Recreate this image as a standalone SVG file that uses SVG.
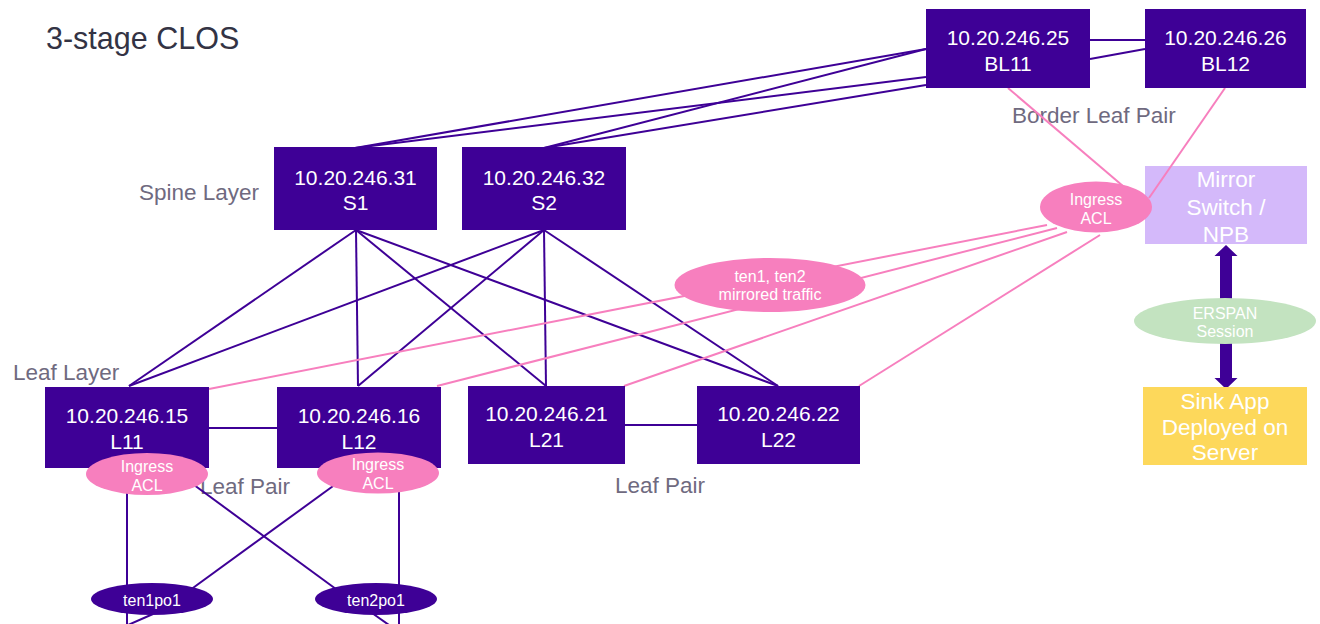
<svg xmlns="http://www.w3.org/2000/svg" width="1320" height="624" viewBox="0 0 1320 624">
<style>
text{font-family:"Liberation Sans",Arial,sans-serif}
.box{fill:#3e0096}
.nt{fill:#fff;font-size:21px;text-anchor:middle}
.lbl{fill:#6f6a80;font-size:22.5px}
.pl{stroke:#3e0096;stroke-width:2;fill:none}
.pk{stroke:#f77fbe;stroke-width:2;fill:none}
.acl{fill:#f77fbe}
.et{fill:#fff;font-size:16px;text-anchor:middle}
.big{fill:#fff;font-size:22.5px;text-anchor:middle}
</style>
<rect width="1320" height="624" fill="#fff"/>
<g id="labels">
<text x="46" y="49" font-size="30.5" fill="#333344">3-stage CLOS</text>
<text class="lbl" x="139" y="200">Spine Layer</text>
<text class="lbl" x="13" y="380">Leaf Layer</text>
<text class="lbl" x="200" y="494">Leaf Pair</text>
<text class="lbl" x="615" y="493">Leaf Pair</text>
<text class="lbl" x="1012" y="123">Border Leaf Pair</text>
</g>
<g id="mirror"><rect x="1145" y="166" width="162" height="78" fill="#d4b9fa"/><text class="big" x="1226" y="187">Mirror</text><text class="big" x="1226" y="215">Switch /</text><text class="big" x="1226" y="242">NPB</text></g>
<g id="connectors">
<line class="pl" x1="355" y1="148" x2="926" y2="49"/>
<line class="pl" x1="544" y1="148" x2="926" y2="49"/>
<line class="pl" x1="355" y1="148" x2="926" y2="77"/>
<line class="pl" x1="544" y1="148" x2="926" y2="85"/>
<line class="pl" x1="1090" y1="40" x2="1145" y2="40" stroke-width="3"/>
<line class="pl" x1="1090" y1="59" x2="1145" y2="49"/>
<line class="pl" x1="356" y1="230" x2="129" y2="386"/>
<line class="pl" x1="356" y1="230" x2="358" y2="386"/>
<line class="pl" x1="356" y1="230" x2="546" y2="386"/>
<line class="pl" x1="356" y1="230" x2="778" y2="386"/>
<line class="pl" x1="544" y1="230" x2="129" y2="386"/>
<line class="pl" x1="544" y1="230" x2="358" y2="386"/>
<line class="pl" x1="544" y1="230" x2="546" y2="386"/>
<line class="pl" x1="544" y1="230" x2="778" y2="386"/>
<line class="pl" x1="209" y1="428" x2="277" y2="428"/>
<line class="pl" x1="625" y1="425" x2="697" y2="425"/>
<line class="pl" x1="127" y1="468" x2="127" y2="624"/>
<line class="pl" x1="399" y1="468" x2="399" y2="624"/>
<line class="pl" x1="190" y1="482" x2="340" y2="592"/>
<line class="pl" x1="340" y1="481" x2="186" y2="593"/>
<line class="pl" x1="153" y1="614" x2="128" y2="625"/>
<line class="pl" x1="372" y1="613" x2="389" y2="625"/>
<line class="pk" x1="1008" y1="88" x2="1130" y2="192"/>
<line class="pk" x1="1225" y1="88" x2="1149" y2="198"/>
<line class="pk" x1="1047" y1="225" x2="209" y2="389"/>
<line class="pk" x1="1057" y1="228" x2="437" y2="386"/>
<line class="pk" x1="1067" y1="232" x2="624" y2="386"/>
<line class="pk" x1="1100" y1="235" x2="859" y2="386"/>
<path d="M1226 245 L1237.5 256 L1232 256 L1232 378 L1237.5 378 L1226 389 L1214.5 378 L1220 378 L1220 256 L1214.5 256 Z" fill="#3e0096"/>
</g>
<g id="BL11"><rect class="box" x="926" y="9" width="164" height="79"/><text class="nt" x="1008" y="45">10.20.246.25</text><text class="nt" x="1008" y="71">BL11</text></g>
<g id="BL12"><rect class="box" x="1145" y="9" width="161" height="79"/><text class="nt" x="1225.5" y="45">10.20.246.26</text><text class="nt" x="1225.5" y="71">BL12</text></g>
<g id="S1"><rect class="box" x="274" y="147" width="163" height="83"/><text class="nt" x="355.5" y="184.5">10.20.246.31</text><text class="nt" x="355.5" y="209.5">S1</text></g>
<g id="S2"><rect class="box" x="462" y="147" width="164" height="83"/><text class="nt" x="544" y="184.5">10.20.246.32</text><text class="nt" x="544" y="209.5">S2</text></g>
<g id="L11"><rect class="box" x="45" y="387" width="164" height="81"/><text class="nt" x="127" y="422.5">10.20.246.15</text><text class="nt" x="127" y="448.5">L11</text></g>
<g id="L12"><rect class="box" x="277" y="387" width="164" height="81"/><text class="nt" x="359" y="422.5">10.20.246.16</text><text class="nt" x="359" y="448.5">L12</text></g>
<g id="L21"><rect class="box" x="468" y="386" width="157" height="78"/><text class="nt" x="546.5" y="420.5">10.20.246.21</text><text class="nt" x="546.5" y="446.5">L21</text></g>
<g id="L22"><rect class="box" x="697" y="386" width="163" height="78"/><text class="nt" x="778.5" y="420.5">10.20.246.22</text><text class="nt" x="778.5" y="446.5">L22</text></g>
<g id="sink"><rect x="1143" y="387" width="164" height="78" fill="#fdd85b"/><text class="big" x="1225" y="409">Sink App</text><text class="big" x="1225" y="435">Deployed on</text><text class="big" x="1225" y="460">Server</text></g>
<g id="acl-bl"><ellipse class="acl" cx="1096" cy="207" rx="56" ry="25.5"/><text class="et" x="1096" y="205">Ingress</text><text class="et" x="1096" y="224">ACL</text></g>
<g id="mirrored"><ellipse class="acl" cx="770" cy="285" rx="95.5" ry="27"/><text class="et" x="770" y="282">ten1, ten2</text><text class="et" x="770" y="300">mirrored traffic</text></g>
<g id="erspan"><ellipse cx="1225" cy="321" rx="91" ry="23" fill="#c3e3c0"/><text class="et" x="1225" y="319">ERSPAN</text><text class="et" x="1225" y="337">Session</text></g>
<g id="acl-l11"><ellipse class="acl" cx="147" cy="474" rx="61" ry="21"/><text class="et" x="147" y="472">Ingress</text><text class="et" x="147" y="491">ACL</text></g>
<g id="acl-l12"><ellipse class="acl" cx="378" cy="473" rx="61" ry="20.5"/><text class="et" x="378" y="470">Ingress</text><text class="et" x="378" y="489">ACL</text></g>
<g id="ten1po1"><ellipse class="box" cx="152" cy="599" rx="61" ry="16"/><text class="et" x="152" y="606">ten1po1</text></g>
<g id="ten2po1"><ellipse class="box" cx="376" cy="599" rx="61" ry="16"/><text class="et" x="376" y="606">ten2po1</text></g>
</svg>
